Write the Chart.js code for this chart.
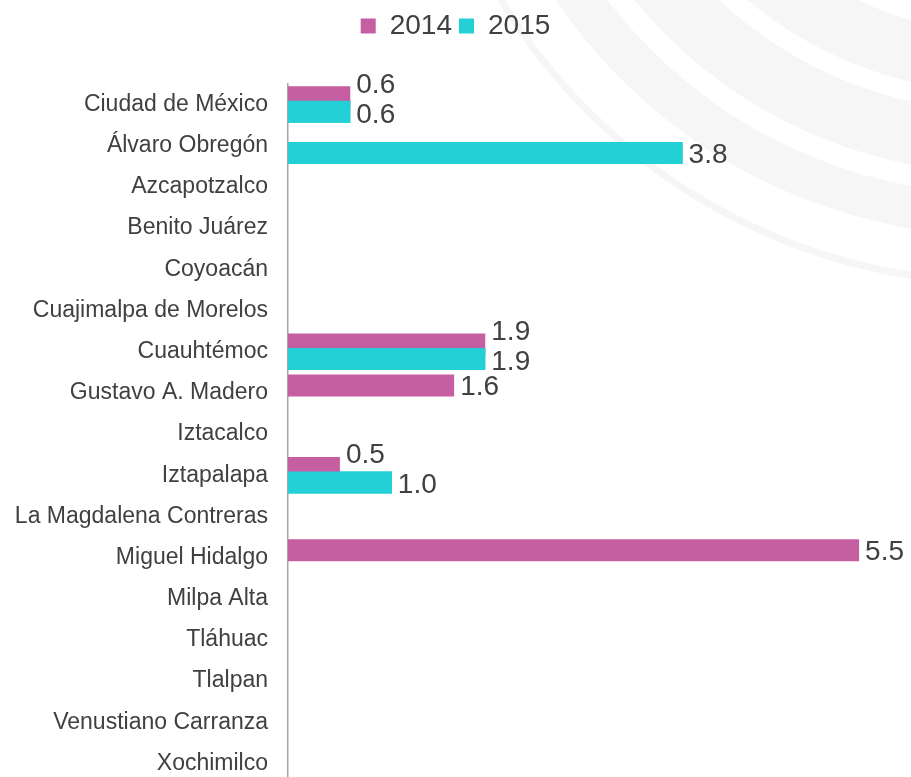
<!DOCTYPE html>
<html>
<head>
<meta charset="utf-8">
<script src="https://cdn.jsdelivr.net/npm/chart.js@4"></script>
<style>
  html, body { margin: 0; padding: 0; background: #fff; overflow: hidden; }
  #wrap { width: 911px; height: 784px; }
</style>
</head>
<body>
<div id="wrap"><canvas id="chart" width="911" height="784"></canvas></div>
<script>
const alcaldias = [
  'Ciudad de México', 'Álvaro Obregón', 'Azcapotzalco', 'Benito Juárez', 'Coyoacán',
  'Cuajimalpa de Morelos', 'Cuauhtémoc', 'Gustavo A. Madero', 'Iztacalco', 'Iztapalapa',
  'La Magdalena Contreras', 'Miguel Hidalgo', 'Milpa Alta', 'Tláhuac', 'Tlalpan',
  'Venustiano Carranza', 'Xochimilco'
];
const years = ['2014', '2015'];
const values2014 = [0.6, null, null, null, null, null, 1.9, 1.6, null, 0.5, null, 5.5, null, null, null, null, null];
const values2015 = [0.6, 3.8, null, null, null, null, 1.9, null, null, 1.0, null, null, null, null, null, null, null];
const colors = ['#c55fa2', '#22d0d6'];

const textColor = '#404040';
const fontFamily = '"Liberation Sans", Arial, Helvetica, sans-serif';

// faint swoosh in the top right corner
const swoosh = {
  id: 'swoosh',
  beforeDraw(chart) {
    const c = chart.ctx;
    c.save();
    c.strokeStyle = '#f6f6f6';
    [[582, 7], [515, 42], [442, 62], [362, 60], [287, 50]].forEach(([r, w]) => {
      c.lineWidth = w;
      c.beginPath();
      c.arc(1000, -300, r, 0, Math.PI);
      c.stroke();
    });
    c.restore();
  }
};

// extra room under the legend
const legendGap = {
  id: 'legendGap',
  beforeInit(chart) {
    const fit = chart.legend.fit;
    chart.legend.fit = function () {
      fit.bind(chart.legend)();
      this.height += 34;
    };
  }
};

// 2015 bars sit over 2014 bars, then the value labels
const valueLabels = {
  id: 'valueLabels',
  afterDatasetsDraw(chart) {
    const c = chart.ctx;
    chart.getDatasetMeta(1).controller.draw();
    const m0 = chart.getDatasetMeta(0).data;
    const m1 = chart.getDatasetMeta(1).data;
    c.save();
    c.font = '28px ' + fontFamily;
    c.fillStyle = textColor;
    c.textBaseline = 'middle';
    c.textAlign = 'left';
    alcaldias.forEach((_, i) => {
      const a = values2014[i], b = values2015[i];
      if (a != null && b != null) {
        const yb = m1[i].y + 3;
        c.fillText(b.toFixed(1), m1[i].x + 6, yb);
        c.fillText(a.toFixed(1), m0[i].x + 6, yb - 30);
      } else if (a != null) {
        c.fillText(a.toFixed(1), m0[i].x + 6, m0[i].y + 2);
      } else if (b != null) {
        c.fillText(b.toFixed(1), m1[i].x + 6, m1[i].y + 2);
      }
    });
    c.restore();
  }
};

new Chart(document.getElementById('chart'), {
  type: 'bar',
  data: {
    labels: alcaldias,
    datasets: [
      { label: years[0], data: values2014, backgroundColor: colors[0] },
      { label: years[1], data: values2015, backgroundColor: colors[1] }
    ]
  },
  options: {
    indexAxis: 'y',
    responsive: false,
    animation: false,
    layout: { padding: { top: 5, left: 0, right: 0, bottom: 0 } },
    datasets: {
      bar: { categoryPercentage: 0.703, barPercentage: 1.52 }
    },
    scales: {
      x: { display: false, min: 0, max: 6 },
      y: {
        grid: { display: false, drawTicks: false },
        border: { display: true, color: '#a6a6a6', width: 1.5 },
        ticks: {
          color: textColor,
          font: { family: fontFamily, size: 23 },
          padding: 20,
          autoSkip: false
        },
        afterFit(scale) {
          scale.width = 288;
          scale.paddingTop = 0;
          scale.paddingBottom = 0;
        }
      }
    },
    plugins: {
      legend: {
        position: 'top',
        labels: {
          boxWidth: 15,
          boxHeight: 15,
          padding: 7,
          color: textColor,
          font: { family: fontFamily, size: 28 }
        }
      },
      tooltip: { enabled: false }
    }
  },
  plugins: [swoosh, legendGap, valueLabels]
});
</script>
</body>
</html>
